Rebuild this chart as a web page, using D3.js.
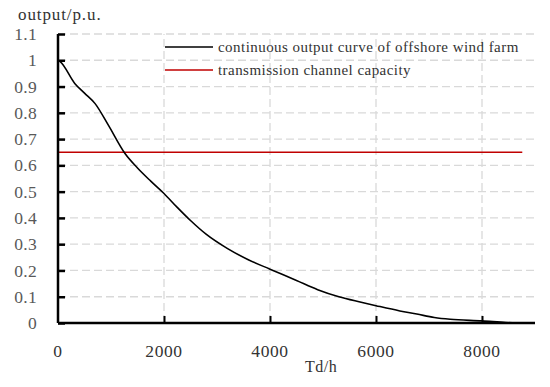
<!DOCTYPE html>
<meta charset="UTF-8">
<style>
  body { margin: 0; background: #fff; }
  text { font-family: "Palatino Linotype", "Book Antiqua", Palatino, "Liberation Serif", serif; }
</style>
<svg width="550" height="387"></svg>
<script src="https://cdn.jsdelivr.net/npm/d3@7/dist/d3.min.js"></script>
<script>

var svg = d3.select("svg"),
    margin = {left: 58, right: 15, top: 34, bottom: 64},
    width = 550,
    height = 387;

// duration curve: hours, output in p.u.
var hours = [0, 40, 320, 500, 700, 950, 1264, 1500, 1750, 2000, 2250, 2500, 2800, 3200, 3600,
             4000, 4500, 4900, 5300, 5700, 6000, 6450, 6770, 7100, 7400, 8000, 8450, 8650];
var output = [1.0, 0.995, 0.911, 0.875, 0.835, 0.753, 0.645, 0.59, 0.54, 0.493, 0.44, 0.39, 0.337,
              0.283, 0.24, 0.205, 0.162, 0.127, 0.1, 0.08, 0.066, 0.046, 0.034, 0.021, 0.014,
              0.008, 0.002, 0];
var capacity = 0.65;
var capacityHours = [0, 8760];

var xTicks = [0, 2000, 4000, 6000, 8000];
var yTicks = [0, 0.1, 0.2, 0.3, 0.4, 0.5, 0.6, 0.7, 0.8, 0.9, 1, 1.1];
var legendLabels = ["continuous output curve of offshore wind farm", "transmission channel capacity"];
var legendColors = ["#000", "#c00000"];

var x = d3.scaleLinear().domain([0, 9000]).range([margin.left, width - margin.right]);
var y = d3.scaleLinear().domain([0, 1.1]).range([height - margin.bottom, margin.top]);

// grid
svg.append("g").selectAll("line").data(yTicks.slice(1)).join("line")
    .attr("x1", x(0)).attr("x2", x(9000))
    .attr("y1", d => y(d)).attr("y2", d => y(d))
    .attr("stroke", "#d9d9d9").attr("stroke-width", 1.3).attr("stroke-dasharray", "8,4");
svg.append("g").selectAll("line").data(xTicks.slice(1)).join("line")
    .attr("x1", d => x(d)).attr("x2", d => x(d))
    .attr("y1", y(0)).attr("y2", y(1.1))
    .attr("stroke", "#d9d9d9").attr("stroke-width", 1.3).attr("stroke-dasharray", "8,4");

// series
var line = d3.line().x(d => x(d[0])).y(d => y(d[1])).curve(d3.curveMonotoneX);
svg.append("path")
    .datum(capacityHours.map(h => [h, capacity]))
    .attr("d", line).attr("fill", "none").attr("stroke", "#c00000").attr("stroke-width", 1.6);
svg.append("path")
    .datum(hours.map((h, i) => [h, output[i]]))
    .attr("d", line).attr("fill", "none").attr("stroke", "#000").attr("stroke-width", 1.6);

// axes
var yAxis = svg.append("g")
    .attr("transform", "translate(" + x(0) + ",0)")
    .call(d3.axisRight(y).tickValues(yTicks).tickSize(7).tickFormat(""));
yAxis.select(".domain").attr("d", "M0," + y(1.1) + "V" + y(0)).attr("stroke-width", 2.5);
yAxis.selectAll(".tick line").attr("stroke-width", 2.5);

var xAxis = svg.append("g")
    .attr("transform", "translate(0," + y(0) + ")")
    .call(d3.axisTop(x).tickValues(xTicks.slice(1)).tickSize(7).tickFormat(""));
xAxis.select(".domain").attr("d", "M" + x(0) + ",0H" + x(9000)).attr("stroke-width", 2.5);
xAxis.selectAll(".tick line").attr("stroke-width", 2);

// tick labels
svg.append("g").selectAll("text").data(yTicks).join("text")
    .attr("x", 37).attr("y", d => y(d)).attr("dy", "0.35em")
    .attr("text-anchor", "end").attr("font-size", 17.5).attr("letter-spacing", 0.3).attr("fill", "#595959")
    .text(d => d);
svg.append("g").selectAll("text").data(xTicks).join("text")
    .attr("x", d => x(d)).attr("y", 357)
    .attr("text-anchor", "middle").attr("font-size", 17.5).attr("letter-spacing", 0.6).attr("fill", "#333")
    .text(d => d);

svg.append("text").attr("x", 18).attr("y", 20).attr("font-size", 17).attr("letter-spacing", 0.9).attr("fill", "#333")
    .text("output/p.u.");
svg.append("text").attr("x", 305).attr("y", 372).attr("font-size", 16).attr("letter-spacing", 0.5).attr("fill", "#333")
    .text("Td/h");

// legend
var legend = svg.append("g").selectAll("g").data(legendLabels).join("g")
    .attr("transform", (d, i) => "translate(165," + (47 + i * 23) + ")");
legend.append("line").attr("x1", 0).attr("x2", 48)
    .attr("stroke", (d, i) => legendColors[i]).attr("stroke-width", 1.6);
legend.append("text").attr("x", 53).attr("dy", "0.35em")
    .attr("font-size", 15).attr("letter-spacing", 0.45).attr("fill", "#333").text(d => d);

</script>
